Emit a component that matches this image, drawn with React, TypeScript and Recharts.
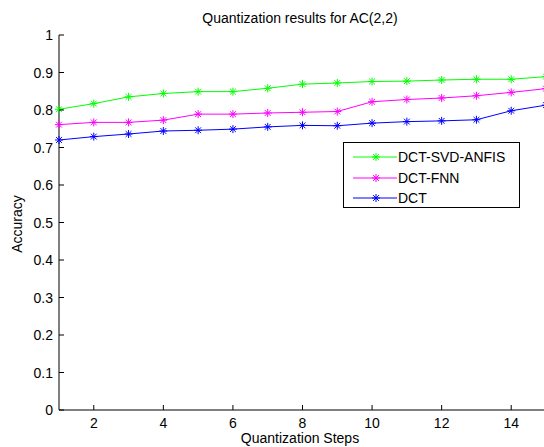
import React from 'react';
import { LineChart, Line, XAxis, YAxis } from 'recharts';

const steps = [1, 2, 3, 4, 5, 6, 7, 8, 9, 10, 11, 12, 13, 14, 15];
const svdAnfis = [0.802, 0.817, 0.835, 0.844, 0.849, 0.849, 0.858, 0.869, 0.872, 0.876, 0.877, 0.88, 0.882, 0.882, 0.889];
const fnn = [0.761, 0.767, 0.767, 0.773, 0.789, 0.789, 0.792, 0.794, 0.796, 0.822, 0.828, 0.832, 0.838, 0.847, 0.857];
const dct = [0.72, 0.729, 0.736, 0.744, 0.746, 0.749, 0.755, 0.759, 0.758, 0.765, 0.769, 0.771, 0.774, 0.798, 0.813];

const xTicks = [2, 4, 6, 8, 10, 12, 14];
const yTicks = [0, 0.1, 0.2, 0.3, 0.4, 0.5, 0.6, 0.7, 0.8, 0.9, 1];

const seriesNames = ['DCT-SVD-ANFIS', 'DCT-FNN', 'DCT'];
const seriesColors = ['#00ff00', '#ff00ff', '#0000ff'];

const data = steps.map((s, i) => ({ step: s, anfis: svdAnfis[i], fnn: fnn[i], dct: dct[i] }));

const FONT = '"Liberation Sans", Arial, Helvetica, sans-serif';
const TICK_LEN = 5;

// asterisk marker like matlab '*'
const Star = (props: any) => {
    const { cx, cy, stroke } = props;
    if (cx == null || cy == null) return null;
    const r = 4;
    const d = 2.9;
    return (
        <g stroke={stroke} strokeWidth={1}>
            <line x1={cx - r} y1={cy} x2={cx + r} y2={cy} />
            <line x1={cx} y1={cy - r} x2={cx} y2={cy + r} />
            <line x1={cx - d} y1={cy - d} x2={cx + d} y2={cy + d} />
            <line x1={cx - d} y1={cy + d} x2={cx + d} y2={cy - d} />
        </g>
    );
};

const BottomTick = (props: any) => {
    const { x, y, payload } = props;
    return (
        <g>
            <line x1={x} y1={y} x2={x} y2={y - TICK_LEN} stroke="#000" />
            <text x={x} y={y + 18} textAnchor="middle" fontSize={14} fontFamily={FONT} fill="#000">
                {payload.value}
            </text>
        </g>
    );
};

const TopTick = (props: any) => {
    const { x, y } = props;
    return <line x1={x} y1={y} x2={x} y2={y + TICK_LEN} stroke="#000" />;
};

const LeftTick = (props: any) => {
    const { x, y, payload } = props;
    return (
        <g>
            <line x1={x} y1={y} x2={x + TICK_LEN} y2={y} stroke="#000" />
            <text x={x - 6} y={y + 5} textAnchor="end" fontSize={14} fontFamily={FONT} fill="#000">
                {Math.round(payload.value * 10) / 10}
            </text>
        </g>
    );
};

const RightTick = (props: any) => {
    const { x, y } = props;
    return <line x1={x} y1={y} x2={x - TICK_LEN} y2={y} stroke="#000" />;
};

const App = () => {
    return (
        <div style={{ position: 'absolute', left: 0, top: 0, width: 544, height: 447, overflow: 'hidden', background: '#fff', fontFamily: FONT }}>
            <div style={{ position: 'absolute', left: 0, width: 600, top: 10, textAlign: 'center', fontSize: 14, lineHeight: '16px' }}>
                Quantization results for AC(2,2)
            </div>
            <LineChart width={550} height={447} data={data} margin={{ top: 35, right: 4, left: 0, bottom: 0 }}>
                <XAxis
                    xAxisId="b"
                    dataKey="step"
                    type="number"
                    domain={[1, 15]}
                    ticks={xTicks}
                    height={37}
                    tickLine={false}
                    tickSize={0}
                    tickMargin={0}
                    axisLine={{ stroke: '#000' }}
                    tick={<BottomTick />}
                    interval={0}
                />
                <XAxis
                    xAxisId="t"
                    orientation="top"
                    dataKey="step"
                    type="number"
                    domain={[1, 15]}
                    ticks={xTicks}
                    height={0}
                    tickLine={false}
                    tickSize={0}
                    tickMargin={0}
                    axisLine={{ stroke: '#000' }}
                    tick={<TopTick />}
                    interval={0}
                />
                <YAxis
                    yAxisId="l"
                    type="number"
                    domain={[0, 1]}
                    ticks={yTicks}
                    width={59}
                    tickLine={false}
                    tickSize={0}
                    tickMargin={0}
                    axisLine={{ stroke: '#000' }}
                    tick={<LeftTick />}
                    interval={0}
                />
                <YAxis
                    yAxisId="r"
                    orientation="right"
                    type="number"
                    domain={[0, 1]}
                    ticks={yTicks}
                    width={0}
                    tickLine={false}
                    tickSize={0}
                    tickMargin={0}
                    axisLine={{ stroke: '#000' }}
                    tick={<RightTick />}
                    interval={0}
                />
                <Line xAxisId="b" yAxisId="l" dataKey="anfis" stroke={seriesColors[0]} strokeWidth={1} dot={<Star />} isAnimationActive={false} />
                <Line xAxisId="b" yAxisId="l" dataKey="fnn" stroke={seriesColors[1]} strokeWidth={1} dot={<Star />} isAnimationActive={false} />
                <Line xAxisId="b" yAxisId="l" dataKey="dct" stroke={seriesColors[2]} strokeWidth={1} dot={<Star />} isAnimationActive={false} />
            </LineChart>
            <div style={{ position: 'absolute', left: 0, top: 224, width: 34, height: 0 }}>
                <div style={{ position: 'absolute', left: 17, top: 0, transform: 'translate(-50%, -50%) rotate(-90deg)', fontSize: 14, whiteSpace: 'nowrap' }}>
                    Accuracy
                </div>
            </div>
            <div style={{ position: 'absolute', left: 0, width: 600, top: 431, textAlign: 'center', fontSize: 14, lineHeight: '15px' }}>
                Quantization Steps
            </div>
            <div
                style={{
                    position: 'absolute',
                    left: 343,
                    top: 142,
                    width: 175,
                    height: 64,
                    border: '1px solid #000',
                    background: '#fff',
                    boxSizing: 'content-box',
                }}
            >
                {seriesNames.map((name, i) => (
                    <div key={name} style={{ position: 'absolute', left: 0, top: 5 + i * 20.5, height: 18, width: 175, display: 'flex', alignItems: 'center' }}>
                        <svg width={54} height={18} style={{ display: 'block' }}>
                            <line x1={9} y1={9} x2={53} y2={9} stroke={seriesColors[i]} strokeWidth={1} />
                            <Star cx={32} cy={9} stroke={seriesColors[i]} />
                        </svg>
                        <span style={{ fontSize: 14, color: '#000' }}>{name}</span>
                    </div>
                ))}
            </div>
        </div>
    );
};

export default App;
